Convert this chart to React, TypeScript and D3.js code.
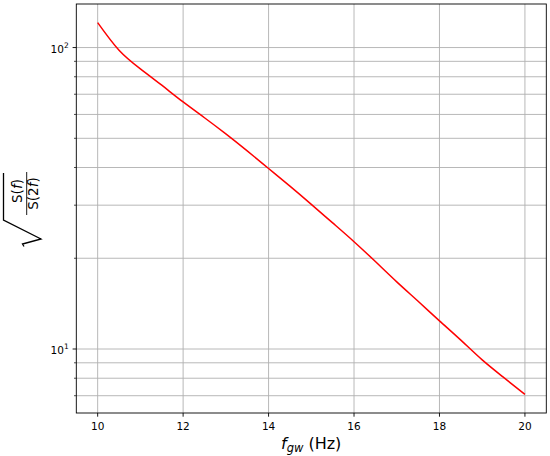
import React from "react";
import * as d3 from "d3";

// gravitational-wave frequency (Hz)
const freq = [10, 10.5, 11, 11.5, 12, 12.5, 13, 13.5, 14, 14.5, 15, 15.5, 16, 16.5, 17, 17.5, 18, 18.5, 19, 19.5, 20];
// sqrt(S(f)/S(2f))
const ratio = [121, 98, 85, 75, 66, 58.5, 51.7, 45.4, 39.7, 34.7, 30.2, 26.2, 22.7, 19.5, 16.7, 14.4, 12.4, 10.7, 9.2, 8.05, 7.07];

const xTicks = [10, 12, 14, 16, 18, 20];
const yMajor = [10, 100];
const yMinor = [7, 8, 9, 20, 30, 40, 50, 60, 70, 80, 90];

const W = 550;
const H = 456;
const m = { left: 76.3, right: 546.3, top: 4, bottom: 413 };
const font = "'DejaVu Sans', sans-serif";

export default function App() {
  // matplotlib-like 5% margins
  const [x0, x1] = d3.extent(freq) as [number, number];
  const xPad = (x1 - x0) * 0.05;
  const x = d3.scaleLinear().domain([x0 - xPad, x1 + xPad]).range([m.left, m.right]);

  const [l0, l1] = d3.extent(ratio.map(Math.log10)) as [number, number];
  const lPad = (l1 - l0) * 0.05;
  const y = d3.scaleLog().domain([10 ** (l0 - lPad), 10 ** (l1 + lPad)]).range([m.bottom, m.top]);

  const line = d3
    .line<number>()
    .x((_, i) => x(freq[i]))
    .y((d) => y(d))
    .curve(d3.curveNatural);

  const [yd0, yd1] = y.domain();
  const minorIn = yMinor.filter((v) => v >= yd0 && v <= yd1);

  return (
    <svg width={W} height={H} style={{ position: "absolute", left: 0, top: 0 }} fontFamily={font}>
      <rect width={W} height={H} fill="#fff" />
      {/* grid */}
      <g stroke="#b0b0b0" strokeWidth={0.9}>
        {xTicks.map((t) => (
          <line key={"gx" + t} x1={x(t)} x2={x(t)} y1={m.top} y2={m.bottom} />
        ))}
        {[...yMajor, ...minorIn].map((t) => (
          <line key={"gy" + t} x1={m.left} x2={m.right} y1={y(t)} y2={y(t)} />
        ))}
      </g>
      <path d={line(ratio) || ""} fill="none" stroke="red" strokeWidth={1.5} />
      <rect
        x={m.left}
        y={m.top}
        width={m.right - m.left}
        height={m.bottom - m.top}
        fill="none"
        stroke="#000"
        strokeWidth={0.9}
      />
      {/* x axis */}
      <g fontSize={10.5} fill="#000" textAnchor="middle">
        {xTicks.map((t) => (
          <g key={"xt" + t}>
            <line x1={x(t)} x2={x(t)} y1={m.bottom} y2={m.bottom + 3.7} stroke="#000" strokeWidth={0.9} />
            <text x={x(t)} y={m.bottom + 16.5}>{t}</text>
          </g>
        ))}
      </g>
      {/* y axis */}
      <g fontSize={10.5} fill="#000">
        {yMajor.map((t) => (
          <g key={"ym" + t}>
            <line x1={m.left - 3.7} x2={m.left} y1={y(t)} y2={y(t)} stroke="#000" strokeWidth={0.9} />
            <text x={50.5} y={y(t) + 5.2}>
              10
              <tspan fontSize={7.5} dy={-4.8}>{Math.log10(t)}</tspan>
            </text>
          </g>
        ))}
        {minorIn.map((t) => (
          <line key={"yn" + t} x1={m.left - 2.3} x2={m.left} y1={y(t)} y2={y(t)} stroke="#000" strokeWidth={0.7} />
        ))}
      </g>
      {/* x label */}
      <text x={281} y={448.5} fontSize={16} fill="#000">
        <tspan fontStyle="italic">f</tspan>
        <tspan fontSize={11.5} fontStyle="italic" dy={3.5}>gw</tspan>
        <tspan dy={-3.5}> (Hz)</tspan>
      </text>
      {/* y label: sqrt(S(f)/S(2f)) */}
      <g transform="translate(24,208) rotate(-90)" fill="#000">
        <path
          d="M-38.5,0 L-36,-1.5 L-31,17 L-12,-20.5 L35,-20.5"
          fill="none"
          stroke="#000"
          strokeWidth={1.3}
          strokeLinejoin="miter"
        />
        <line x1={-7} x2={36} y1={2.7} y2={2.7} stroke="#000" strokeWidth={0.9} />
        <text x={17} y={-2} fontSize={13.5} textAnchor="middle">
          S(<tspan fontStyle="italic">f</tspan>)
        </text>
        <text x={14.5} y={14} fontSize={13.5} textAnchor="middle">
          S(2<tspan fontStyle="italic">f</tspan>)
        </text>
      </g>
    </svg>
  );
}
